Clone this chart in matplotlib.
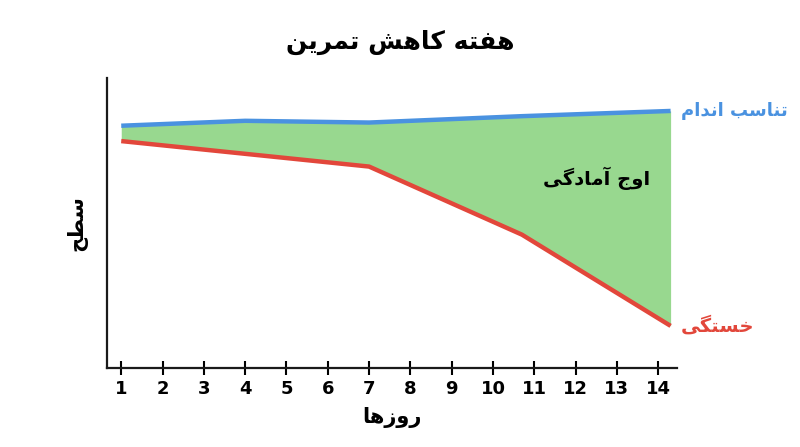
import matplotlib
matplotlib.use('Agg')
import matplotlib.pyplot as plt
import numpy as np

# chart data (level in arbitrary units, 0 = x axis)
days_ticks = list(range(1, 15))
fit_days = [1, 4, 7, 10.7, 14.3]
fitness = [83.6, 85.3, 84.7, 86.9, 88.7]
fat_days = [1, 7, 10.7, 14.3]
fatigue = [78.3, 69.5, 46.0, 14.5]

title_txt = 'هفته کاهش تمرین'
xlabel_txt = 'روزها'
ylabel_txt = 'سطح'
fitness_txt = 'تناسب اندام'
fatigue_txt = 'خستگی'
peak_txt = 'اوج آمادگی'

BLUE = '#4a92e0'
RED = '#e2473b'
GREEN = '#98d88f'

# --- minimal persian shaping (matplotlib has no text shaping) ---
FORMS = {
    'ا': ('\uFE8D', '\uFE8E', None, None),
    'آ': ('\uFE81', '\uFE82', None, None),
    'د': ('\uFEA9', '\uFEAA', None, None),
    'ر': ('\uFEAD', '\uFEAE', None, None),
    'ز': ('\uFEAF', '\uFEB0', None, None),
    'و': ('\uFEED', '\uFEEE', None, None),
    'ب': ('\uFE8F', '\uFE90', '\uFE91', '\uFE92'),
    'ت': ('\uFE95', '\uFE96', '\uFE97', '\uFE98'),
    'ج': ('\uFE9D', '\uFE9E', '\uFE9F', '\uFEA0'),
    'ح': ('\uFEA1', '\uFEA2', '\uFEA3', '\uFEA4'),
    'خ': ('\uFEA5', '\uFEA6', '\uFEA7', '\uFEA8'),
    'س': ('\uFEB1', '\uFEB2', '\uFEB3', '\uFEB4'),
    'ش': ('\uFEB5', '\uFEB6', '\uFEB7', '\uFEB8'),
    'ط': ('\uFEC1', '\uFEC2', '\uFEC3', '\uFEC4'),
    'ف': ('\uFED1', '\uFED2', '\uFED3', '\uFED4'),
    'م': ('\uFEE1', '\uFEE2', '\uFEE3', '\uFEE4'),
    'ن': ('\uFEE5', '\uFEE6', '\uFEE7', '\uFEE8'),
    'ه': ('\uFEE9', '\uFEEA', '\uFEEB', '\uFEEC'),
    'ک': ('\uFB8E', '\uFB8F', '\uFB90', '\uFB91'),
    'گ': ('\uFB92', '\uFB93', '\uFB94', '\uFB95'),
    'ی': ('\uFBFC', '\uFBFD', '\uFBFE', '\uFBFF'),
}


def shape(s):
    out = []
    for i, c in enumerate(s):
        if c not in FORMS:
            out.append(c)
            continue
        prev = s[i - 1] if i > 0 else ''
        nxt = s[i + 1] if i + 1 < len(s) else ''
        join_prev = prev in FORMS and FORMS[prev][2] is not None
        join_next = nxt in FORMS and FORMS[c][2] is not None
        iso, fin, ini, med = FORMS[c]
        if join_prev and join_next:
            out.append(med)
        elif join_prev:
            out.append(fin)
        elif join_next:
            out.append(ini)
        else:
            out.append(iso)
    return ''.join(out)[::-1]


plt.rcParams['font.family'] = ['DejaVu Sans']

fig = plt.figure(figsize=(8, 4.47), dpi=100)
ax = fig.add_axes([0.134, 0.177, 0.712, 0.648])

# fill between the two curves on a shared day grid
grid = np.union1d(fit_days, fat_days)
fit_g = np.interp(grid, fit_days, fitness)
fat_g = np.interp(grid, fat_days, fatigue)
ax.fill_between(grid, fat_g, fit_g, color=GREEN, lw=0, zorder=1)
ax.plot(fat_days, fatigue, color=RED, lw=3.2, solid_capstyle='butt', zorder=2)
ax.plot(fit_days, fitness, color=BLUE, lw=3.2, solid_capstyle='butt', zorder=3)

ax.set_xlim(0.66, 14.45)
ax.set_ylim(0, 100)
ax.set_xticks(days_ticks)
ax.set_xticklabels([str(d) for d in days_ticks], fontsize=13, fontweight='bold')
ax.set_yticks([])
ax.tick_params(axis='x', direction='inout', length=10, width=1.5, pad=4)
for s in ['top', 'right']:
    ax.spines[s].set_visible(False)
for s in ['left', 'bottom']:
    ax.spines[s].set_linewidth(1.6)
    ax.spines[s].set_color('#1a1a1a')

ax.set_xlabel(shape(xlabel_txt), fontsize=15, fontweight='bold', labelpad=6)
ax.set_ylabel(shape(ylabel_txt), fontsize=15, fontweight='bold', labelpad=14)
fig.text(0.5, 0.905, shape(title_txt), fontsize=18, fontweight='bold',
         ha='center', va='center')

ax.text(14.55, fitness[-1], shape(fitness_txt), color=BLUE, fontsize=13,
        fontweight='bold', ha='left', va='center')
ax.text(14.55, fatigue[-1], shape(fatigue_txt), color=RED, fontsize=14,
        fontweight='bold', ha='left', va='center')
ax.text(12.5, 65.5, shape(peak_txt), color='black', fontsize=14,
        fontweight='bold', ha='center', va='center')

fig.savefig('out.png', dpi=100)
